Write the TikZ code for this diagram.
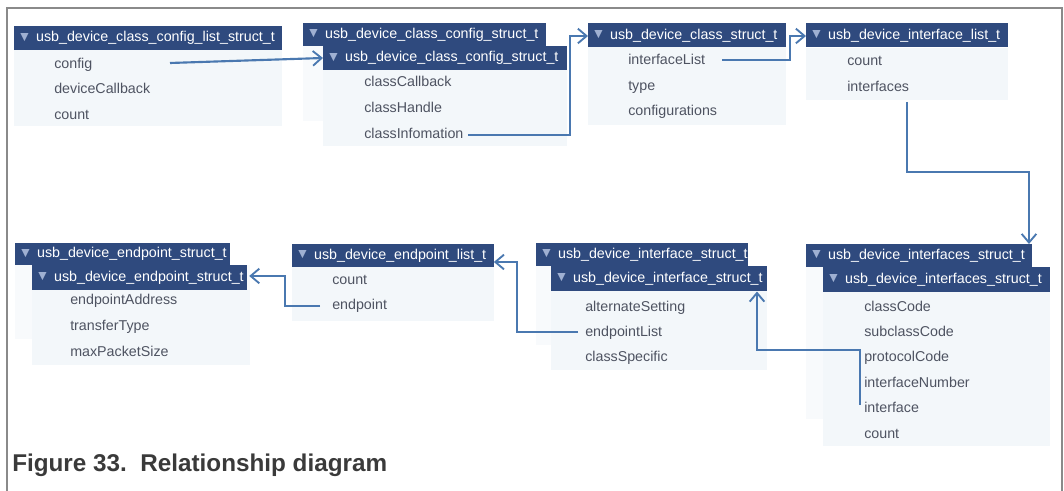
\documentclass[tikz,border=0pt]{standalone}
\usepackage{fontspec}
\setmainfont{Liberation Sans}
\usetikzlibrary{arrows.meta,calc}
\definecolor{hdrblue}{HTML}{2F4A7E}
\definecolor{tricol}{HTML}{9FB0D2}
\definecolor{bodyfill}{HTML}{F3F7FA}
\definecolor{faintfill}{HTML}{F8FAFC}
\definecolor{itemtext}{HTML}{4E5361}
\definecolor{arrowblue}{HTML}{4A78B0}
\definecolor{framegray}{HTML}{8A8A8A}
\definecolor{captiongray}{HTML}{3A3A3A}
\newcommand{\tri}{\raisebox{0.4pt}{\color{tricol}\fontsize{10.5}{10.5}\selectfont ▼}\hspace{3.5pt}}
\newcommand{\hd}[1]{\mbox{\tri #1}}
\begin{document}
\begin{tikzpicture}[x=0.75pt,y=-0.75pt,
  hdr/.style={fill=hdrblue,text=white,font=\fontsize{10.7}{12}\selectfont,
    anchor=north west,inner xsep=2.5pt,inner ysep=0pt,align=left,minimum height=18pt},
  body/.style={fill=bodyfill,draw=none,anchor=north west,inner sep=0pt},
  faint/.style={fill=faintfill,draw=none,anchor=north west,inner sep=0pt},
  item/.style={text=itemtext,font=\fontsize{10.7}{12}\selectfont,anchor=base west,inner sep=0pt},
  link/.style={draw=arrowblue,line width=1.6pt,-{Straight Barb[length=6.5pt,width=11pt,line width=1.4pt]}}
]
\useasboundingbox (0,0) rectangle (1064,491);
% frame
\draw[framegray,line width=1pt] (7,491) -- (7,8) -- (1062,8) -- (1062,491);

% ---------- Box 1
\node[body,minimum width=201pt,minimum height=57pt] (b1) at (14,50) {};
\node[hdr,text width=196pt,minimum width=201pt] (h1) at (14,26) {\hd{usb\_device\_class\_config\_list\_struct\_t}};
\node[item] (b1config) at (54,69) {config};
\node[item] (b1cb) at (54,94) {deviceCallback};
\node[item] (b1count) at (54,120) {count};

% ---------- Box 2
\node[faint,minimum width=198pt,minimum height=56pt] (f2) at (303,46) {};
\node[body,minimum width=183pt,minimum height=57pt] (b2) at (323,70) {};
\node[hdr,text width=177pt,minimum width=182pt,minimum height=17.25pt] (h2a) at (303,23) {\hd{usb\_device\_class\_config\_struct\_t}};
\node[hdr,text width=178pt,minimum width=183pt] (h2b) at (323,46) {\hd{usb\_device\_class\_config\_struct\_t}};
\node[item] (b2cc) at (364,87) {classCallback};
\node[item] (b2ch) at (364,113) {classHandle};
\node[item] (b2ci) at (364,139) {classInfomation};

% ---------- Box 3
\node[body,minimum width=148pt,minimum height=58pt] (b3) at (588,47) {};
\node[hdr,text width=143pt,minimum width=148pt] (h3) at (588,23) {\hd{usb\_device\_class\_struct\_t}};
\node[item] (b3il) at (628,65) {interfaceList};
\node[item] (b3type) at (628,91) {type};
\node[item] (b3conf) at (628,116) {configurations};

% ---------- Box 4
\node[body,minimum width=151.5pt,minimum height=39pt] (b4) at (806,48) {};
\node[hdr,text width=146.5pt,minimum width=151.5pt] (h4) at (806,23) {\hd{usb\_device\_interface\_list\_t}};
\node[item] (b4count) at (847,66) {count};
\node[item] (b4if) at (847,92) {interfaces};

% ---------- Box 5
\node[faint,minimum width=176pt,minimum height=55pt] (f5) at (15,265) {};
\node[body,minimum width=163.5pt,minimum height=56pt] (b5) at (32,290) {};
\node[hdr,text width=156pt,minimum width=161pt,minimum height=16.5pt] (h5a) at (15,243) {\hd{usb\_device\_endpoint\_struct\_t}};
\node[hdr,text width=156pt,minimum width=161pt,minimum height=18.75pt] (h5b) at (32,265) {\hd{usb\_device\_endpoint\_struct\_t}};
\node[item] (b5ea) at (70,305) {endpointAddress};
\node[item] (b5tt) at (70,331) {transferType};
\node[item] (b5mp) at (70,357) {maxPacketSize};

% ---------- Box 6
\node[body,minimum width=151pt,minimum height=40pt] (b6) at (292,267) {};
\node[hdr,text width=146pt,minimum width=151pt,minimum height=17.25pt] (h6) at (292,244) {\hd{usb\_device\_endpoint\_list\_t}};
\node[item] (b6count) at (332,285) {count};
\node[item] (b6ep) at (332,310) {endpoint};

% ---------- Box 7
\node[faint,minimum width=173pt,minimum height=59pt] (f7) at (536,266) {};
\node[body,minimum width=162pt,minimum height=59pt] (b7) at (551,291) {};
\node[hdr,text width=154pt,minimum width=159pt,minimum height=17.25pt] (h7a) at (536,243) {\hd{usb\_device\_interface\_struct\_t}};
\node[hdr,text width=157pt,minimum width=162pt,minimum height=18.75pt] (h7b) at (551,266) {\hd{usb\_device\_interface\_struct\_t}};
\node[item] (b7as) at (585,312) {alternateSetting};
\node[item] (b7el) at (585,337) {endpointList};
\node[item] (b7cs) at (585,362) {classSpecific};

% ---------- Box 8
\node[faint,minimum width=183pt,minimum height=114pt] (f8) at (806,267) {};
\node[body,minimum width=170.25pt,minimum height=115pt] (b8) at (823,292) {};
\node[hdr,text width=164.5pt,minimum width=169.5pt,minimum height=17.25pt] (h8a) at (806,244) {\hd{usb\_device\_interfaces\_struct\_t}};
\node[hdr,text width=165.25pt,minimum width=170.25pt,minimum height=18.75pt] (h8b) at (823,267) {\hd{usb\_device\_interfaces\_struct\_t}};
\node[item] (b8cc) at (864,312) {classCode};
\node[item] (b8sc) at (864,337) {subclassCode};
\node[item] (b8pc) at (864,362) {protocolCode};
\node[item] (b8in) at (864,388) {interfaceNumber};
\node[item] (b8if) at (864,413) {interface};
\node[item] (b8count) at (864,439) {count};

% ---------- connector anchors
\coordinate (s1) at (170,63);
\coordinate (s2) at (468,135);
\coordinate (s3) at (722,60);
\coordinate (s4) at (907,102);
\coordinate (s5) at (860,405);
\coordinate (s6) at (578,332);
\coordinate (s7) at (320,306);

\draw[link] (s1) -- (h2b.west |- 0,58);
\draw[link] (s2) -- (570,135) -- (570,36) -- (h3.west |- 0,36);
\draw[link] (s3) -- (790,60) -- (790,36) -- (h4.west |- 0,36);
\draw[link] (s4) -- (907,172) -- (1029,172) -- (1029,0 |- h8a.north);
\draw[link] (s5) -- (860,350) -- (757,350) -- (757,0 |- h7b.south);
\draw[link] (s6) -- (517,332) -- (517,262) -- (h6.east |- 0,262);
\draw[link] (s7) -- (285,306) -- (285,276) -- ($(h5b.east |- 0,276)+(2,0)$);

% caption
\node[anchor=base west,inner sep=0pt,text=captiongray,font=\fontsize{18.2}{20}\selectfont\bfseries] (cap) at (12,472) {Figure 33.\ \ Relationship diagram};
\end{tikzpicture}
\end{document}
